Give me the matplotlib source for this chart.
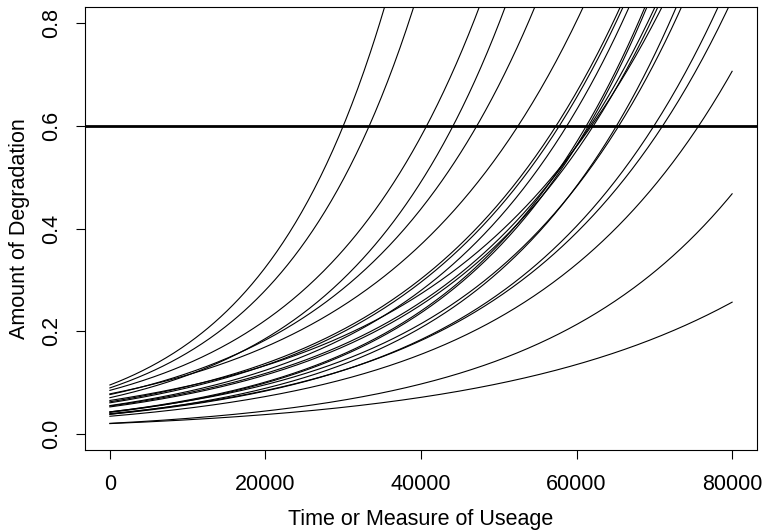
#!/usr/bin/env python3
"""Degradation paths for a sample of units, with the failure threshold at 0.6.

Each path follows D(t) = a * exp(b * t); a and b are per-unit values
read off the reference chart.
"""

import numpy as np
import matplotlib
matplotlib.use("Agg")
import matplotlib.pyplot as plt

plt.rcParams["font.family"] = ["Liberation Sans", "DejaVu Sans"]

# per-unit initial degradation level (t = 0)
initial_level = [0.0948, 0.0891, 0.0843, 0.070, 0.076, 0.0775, 0.062, 0.060,
                 0.0546, 0.0423, 0.0414, 0.0537, 0.0520, 0.0646, 0.0378,
                 0.0424, 0.0376, 0.0389, 0.0338, 0.020, 0.0195]
# per-unit exponential growth rate (per unit of usage)
growth_rate = [6.15e-5, 5.72e-5, 4.82e-5, 4.87e-5, 4.38e-5, 3.90e-5,
               3.957e-5, 3.985e-5, 4.08e-5, 4.33e-5, 4.345e-5, 3.91e-5,
               3.935e-5, 3.60e-5, 4.245e-5, 4.05e-5, 3.96e-5, 3.85e-5,
               3.80e-5, 3.94e-5, 3.22e-5]
threshold = 0.6
t_max = 80000

x_ticks = [0, 20000, 40000, 60000, 80000]
y_ticks = [0.0, 0.2, 0.4, 0.6, 0.8]


def main():
    fig = plt.figure(figsize=(7.63, 5.31), dpi=100)
    ax = fig.add_axes([85 / 763, 81 / 531, 672 / 763, 443 / 531])

    t = np.linspace(0, t_max, 400)
    for a, b in zip(initial_level, growth_rate):
        ax.plot(t, a * np.exp(b * t), color="black", lw=0.8)
    ax.axhline(threshold, color="black", lw=2.0)

    # R-style 4% padding around the data range
    ax.set_xlim(-0.04 * t_max, 1.04 * t_max)
    ax.set_ylim(-0.032, 0.832)
    ax.set_xticks(x_ticks)
    ax.set_xticklabels([str(v) for v in x_ticks])
    ax.set_yticks(y_ticks)
    ax.set_yticklabels([f"{v:.1f}" for v in y_ticks], rotation=90,
                       va="center")
    ax.tick_params(direction="out", length=6.5, width=0.8, labelsize=15.5)
    ax.tick_params(axis="x", pad=11)
    ax.tick_params(axis="y", pad=10)
    for s in ax.spines.values():
        s.set_linewidth(0.8)

    ax.set_xlabel("Time or Measure of Useage", fontsize=15.5, labelpad=10)
    ax.set_ylabel("Amount of Degradation", fontsize=15.5, labelpad=8)

    fig.savefig("out.png", dpi=100)


if __name__ == "__main__":
    main()
